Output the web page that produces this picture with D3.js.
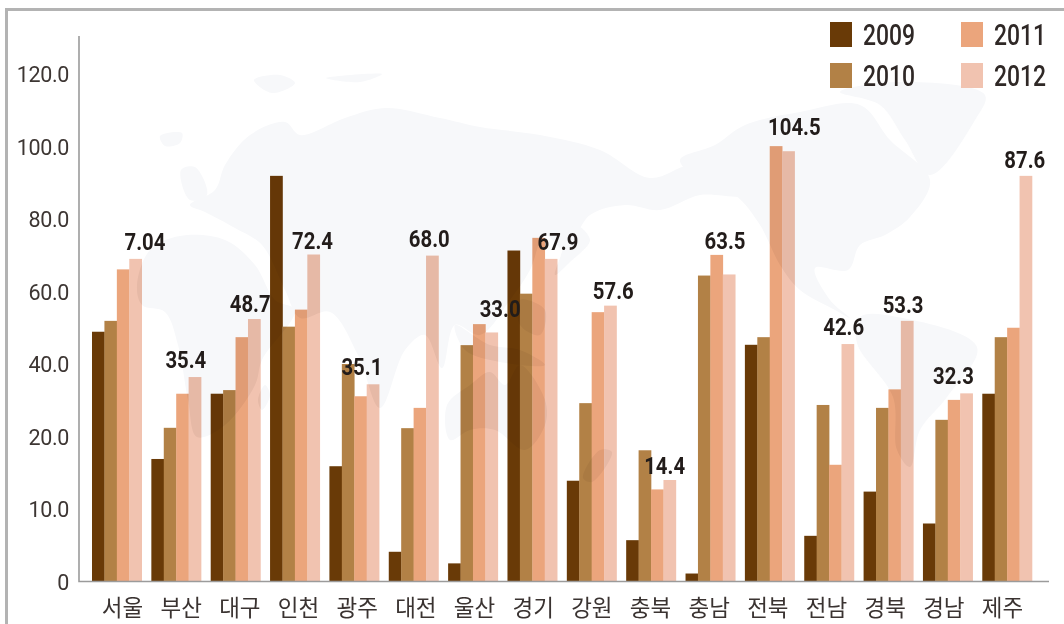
<!DOCTYPE html>
<html><head><meta charset="utf-8">
<script src="https://cdn.jsdelivr.net/npm/d3@7/dist/d3.min.js"></script>
<style>
html,body{margin:0;padding:0;background:#fff}
svg{display:block}
</style></head><body><svg id="c" width="1064" height="624"></svg>
<script>
const categories=["서울","부산","대구","인천","광주","대전","울산","경기","강원","충북","충남","전북","전남","경북","경남","제주"];
const years=["2009","2010","2011","2012"];
const v2009=[48.9,16.9,31.8,91.9,15.9,4.1,2.5,71.3,13.9,5.7,1.1,45.3,6.3,12.4,8.0,31.8];
const v2010=[51.9,22.4,32.8,50.3,40.0,22.3,45.2,59.4,29.2,18.1,64.4,47.4,28.7,27.9,24.6,47.4];
const v2011=[66.1,31.8,47.4,55.0,31.1,27.9,51.0,74.8,54.3,12.7,70.1,100.1,16.1,33.0,30.1,50.0];
const v2012=[69.0,36.4,52.4,70.2,34.4,69.9,48.7,69.0,56.1,14.0,64.7,98.7,45.5,51.9,31.9,91.9];
const valueLabels=["7.04","35.4","48.7","72.4","35.1","68.0","33.0","67.9","57.6","14.4","63.5","104.5","42.6","53.3","32.3","87.6"];
const yTicks=[0,10,20,40,60,80,100,120];
const seriesValues=[v2009,v2010,v2011,v2012];

const colors=["#693a07","#b28146","#eba57c","#f1c3b0"];
const svg=d3.select("#c");
const base=581.5, step=72.5, axisX=79;
const y=d3.scaleLinear().domain(yTicks).range(yTicks.map((_,i)=>base-i*step));
const x=d3.scaleBand().domain(categories).range([92,1032]).paddingInner(0.1626).paddingOuter(0);
const xs=d3.scaleBand().domain(years).range([0,x.bandwidth()]);
const xLabel=d3.scalePoint().domain(categories).range([122,1002]);
const ink="#2f2826";
const condense=(sel,k)=>sel.each(function(){
  this.setAttribute("lengthAdjust","spacingAndGlyphs");
  this.setAttribute("textLength",this.getComputedTextLength()*k);
});

// faint world map outlines
const blobs=[
 [[190,205],[215,190],[225,165],[250,135],[285,122],[300,135],[345,118],[385,108],[440,118],[480,127],[540,135],[600,150],[650,178],[690,165],[725,170],[745,195],[700,195],[660,210],[625,205],[590,215],[565,250],[545,235],[530,270],[510,300],[480,335],[455,325],[442,368],[425,335],[405,350],[380,408],[358,355],[330,312],[300,318],[285,290],[262,245],[235,228],[205,212]],
 [[137,285],[150,250],[180,236],[225,240],[255,265],[275,300],[295,310],[262,360],[255,385],[225,425],[197,437],[188,400],[178,345],[165,312],[142,305]],
 [[447,405],[470,385],[490,372],[505,385],[520,365],[545,400],[545,425],[525,450],[495,430],[470,430],[450,440]],
 [[745,125],[800,112],[860,105],[890,140],[930,180],[910,217],[885,235],[860,245],[848,270],[815,268],[830,300],[850,318],[835,310],[800,290],[780,265],[760,225],[735,195],[700,180],[680,160],[715,145]],
 [[840,92],[900,82],[985,95],[975,120],[930,175],[905,140],[880,105]],
 [[860,317],[897,317],[977,347],[947,397],[920,430],[910,467],[897,450],[893,397],[857,343]],
 [[181,170],[195,167],[207,195],[190,200]],
 [[160,136],[182,133],[180,143],[165,146]],
 [[254,80],[280,75],[295,83],[272,93]],
 [[326,78],[382,74],[360,82]],
 [[265,385],[270,395],[262,410],[258,400]],
 [[575,225],[590,240],[570,262],[555,275],[560,258]],
 [[455,325],[490,345],[520,350],[545,365],[500,362],[465,350]],
 [[520,300],[545,310],[540,335],[520,325]],
 [[600,450],[612,452],[592,482],[583,478]]
];
const mapLine=d3.line().curve(d3.curveCatmullRomClosed.alpha(0.5));
svg.append("g").selectAll("path").data(blobs).join("path").attr("d",mapLine).attr("fill","#f7f8fa");

// frame
svg.append("path").attr("d","M6.5,624V9.5H1064").attr("fill","none").attr("stroke","#b3b3b3").attr("stroke-width",3);

// bars
const barAttrs=(sel,vals,s)=>sel
   .attr("x",(d,i)=>x(categories[i])+xs(years[s]))
   .attr("width",xs.bandwidth()+0.3)
   .attr("y",d=>y(d)).attr("height",d=>base-y(d));
const g=svg.append("g");
const clip=svg.append("clipPath").attr("id","barClip");
seriesValues.forEach((vals,s)=>{
  g.selectAll(null).data(vals).join("rect").call(barAttrs,vals,s).attr("fill",colors[s]);
  clip.selectAll(null).data(vals).join("rect").call(barAttrs,vals,s);
});
// map shows through the bars
svg.append("g").attr("clip-path","url(#barClip)").style("mix-blend-mode","multiply")
  .selectAll("path").data(blobs).join("path").attr("d",mapLine).attr("fill","#f4f2f1");

// axes
const yAxis=d3.axisLeft(y).tickValues(yTicks).tickSize(0).tickPadding(10).tickFormat(d=>d===0?"0":d3.format(".1f")(d));
const gy=svg.append("g").attr("transform",`translate(${axisX},0)`).call(yAxis);
gy.select(".domain").remove();
gy.selectAll("text").attr("font-family","Roboto,sans-serif").attr("font-size",21.5).attr("font-weight",400).attr("fill","#3d3633").attr("letter-spacing",-0.35).attr("dy","0.36em");
const xAxis=d3.axisBottom(xLabel).tickSize(0).tickPadding(19);
const gx=svg.append("g").attr("transform",`translate(0,${base})`).call(xAxis);
gx.select(".domain").remove();
gx.selectAll("text").attr("font-family",'"Noto Sans CJK KR",sans-serif').attr("font-size",22.5).attr("font-weight",400).attr("fill","#3a3331");
svg.append("path").attr("d",`M${axisX},36V${base}H1049`).attr("fill","none").attr("stroke","#9b9b9b").attr("stroke-width",1.6);

// value annotations (placed by hand in the source, offset from the 2012 bar)
const labelDx=[9.5,-9,-4,-1,-11,-3,8.5,7,3,-5,-4,6,-4,-4,-13,-1];
const labelDy=[-17.3,-18,-16.3,-14.7,-18.3,-17.7,-24.3,-17.3,-15.7,-15,-34.3,-24.6,-18.3,-17,-18.3,-16.7];
svg.append("g").selectAll("text").data(valueLabels).join("text")
  .attr("x",(d,i)=>x(categories[i])+xs("2012")+xs.bandwidth()/2+labelDx[i])
  .attr("y",(d,i)=>y(v2012[i])+labelDy[i])
  .attr("dy","0.36em").attr("text-anchor","middle")
  .attr("font-family","Roboto,sans-serif").attr("font-weight",700).attr("font-size",24.5).attr("fill","#221c1a")
  .text(d=>d).call(condense,0.83);

// legend
const lx=d3.scaleBand().domain([0,1]).range([830,1092]);
const ly=d3.scaleBand().domain([0,1]).range([14,96]);
const leg=svg.append("g").selectAll("g").data(years).join("g")
  .attr("transform",(d,i)=>`translate(${lx(i>>1)},${ly(i%2)+ly.bandwidth()/2})`);
leg.append("rect").attr("x",0).attr("y",-12.5).attr("width",22).attr("height",25).attr("fill",(d,i)=>colors[i]);
leg.append("text").attr("x",33).attr("dy","0.36em").attr("font-family","Roboto,sans-serif").attr("font-weight",500).attr("font-size",29).attr("fill",ink).text(d=>d).call(condense,0.79);
</script></body></html>
